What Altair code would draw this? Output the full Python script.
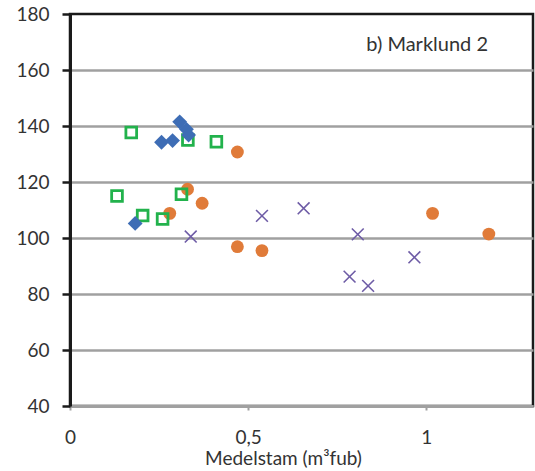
import altair as alt
import pandas as pd

# Medelstam (m³fub) vs index, four stand series
blue_x = [0.183, 0.257, 0.288, 0.308, 0.327, 0.333]
blue_y = [105.2, 134.2, 134.8, 141.5, 138.8, 136.8]

green_x = [0.132, 0.172, 0.204, 0.260, 0.313, 0.331, 0.411]
green_y = [115.0, 137.7, 108.0, 106.8, 115.6, 135.0, 134.4]

orange_x = [0.280, 0.330, 0.371, 0.470, 0.470, 0.539, 1.018, 1.176]
orange_y = [108.8, 117.4, 112.4, 130.7, 96.9, 95.5, 108.8, 101.4]

purple_x = [0.339, 0.539, 0.656, 0.808, 0.785, 0.837, 0.967]
purple_y = [100.5, 107.9, 110.6, 101.3, 86.2, 82.9, 93.1]

x_ticks = [0, 0.5, 1]
y_ticks = [40, 60, 80, 100, 120, 140, 160, 180]

panel_label = ["b) Marklund 2"]
label_x = [0.832]
label_y = [169]

FONT = "Lato"

x_scale = alt.Scale(domain=[0, 1.3], nice=False, zero=False)
y_scale = alt.Scale(domain=[40, 180], nice=False, zero=False)

x_axis = alt.Axis(
    values=x_ticks,
    title="Medelstam (m³fub)",
    grid=False,
    domainColor="#A0A0A0",
    domainWidth=3,
    tickColor="#A0A0A0",
    tickWidth=2,
    tickSize=4,
    labelExpr="replace(format(datum.value, '~g'), '.', ',')",
    labelFlush=False,
    labelFont=FONT,
    labelFontSize=19,
    labelColor="#333333",
    labelBaseline="middle",
    labelPadding=27,
    titleFont=FONT,
    titleFontSize=19,
    titleFontWeight="normal",
    titleColor="#333333",
    titleX=213,
    titleY=52,
    titleAlign="center",
    titleBaseline="middle",
)

y_axis = alt.Axis(
    values=y_ticks,
    title=None,
    grid=True,
    gridColor="#A0A0A0",
    gridWidth=2.5,
    gridOpacity={"condition": {"test": "datum.value === 180", "value": 0}, "value": 1},
    domainColor="#1A1A1A",
    domainWidth=3,
    tickColor="#1A1A1A",
    tickWidth=2.5,
    tickSize=8,
    labelFont=FONT,
    labelFontSize=19,
    labelColor="#333333",
    labelPadding=13,
)


def frame(xs, ys):
    return pd.DataFrame({"x": xs, "y": ys})


def enc(chart):
    return chart.encode(
        x=alt.X("x:Q", scale=x_scale, axis=x_axis),
        y=alt.Y("y:Q", scale=y_scale, axis=y_axis),
    )


orange = enc(alt.Chart(frame(orange_x, orange_y)).mark_point(
    shape="circle", filled=True, size=165, color="#E07B39", opacity=1))

green = enc(alt.Chart(frame(green_x, green_y)).mark_point(
    shape="square", filled=False, size=115, color="#22B24C", strokeWidth=2.8, opacity=1))

blue = enc(alt.Chart(frame(blue_x, blue_y)).mark_point(
    shape="diamond", filled=True, size=220, color="#3E6DB5", opacity=1))

purple = enc(alt.Chart(frame(purple_x, purple_y)).mark_point(
    shape="M-1,-1L1,1M1,-1L-1,1", filled=False, size=140, color="#6E5CA6",
    strokeWidth=1.6, opacity=1))

label = alt.Chart(pd.DataFrame({"t": panel_label, "x": label_x, "y": label_y})).mark_text(
    align="left", baseline="middle", font=FONT, fontSize=20, color="#333333"
).encode(
    x=alt.X("x:Q", scale=x_scale),
    y=alt.Y("y:Q", scale=y_scale),
    text="t:N",
)

chart = alt.layer(orange, green, blue, purple, label).properties(
    width=463,
    height=392,
    autosize=alt.AutoSizeParams(type="none"),
    padding={"left": 70, "top": 14, "right": 2, "bottom": 65},
    background="white",
).configure_view(
    stroke="#1A1A1A",
    strokeWidth=2.5,
)

chart.save("out.html", embed_options={"renderer": "svg", "actions": False})
